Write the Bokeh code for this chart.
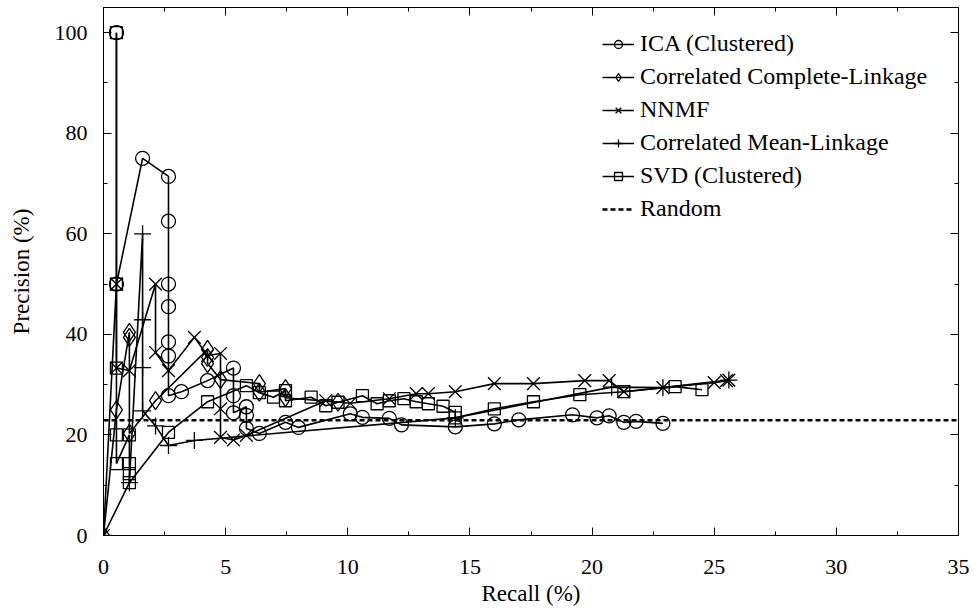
from bokeh.plotting import figure
from bokeh.models import (Range1d, LinearAxis, SingleIntervalTicker, Legend, LegendItem,
                          CustomJSTickFormatter)
from bokeh.embed import file_html
from bokeh.resources import INLINE

FONT = "Liberation Serif"

# ---------------- data (recall %, precision %) ----------------
ica_x = [0.53, 0.53, 1.60, 2.66, 2.66, 2.66, 2.66, 2.66, 2.66, 2.66, 3.19, 4.26, 5.32, 5.32, 5.32,
         5.85, 5.85, 5.85, 6.38, 7.45, 7.98, 10.1, 10.6, 11.7, 12.2, 14.4, 16.0, 17.0, 19.2, 20.2,
         20.7, 21.3, 21.8, 22.9]
ica_y = [100, 50, 75, 71.4, 62.5, 50, 45.5, 38.5, 35.7, 27.8, 28.6, 30.8, 33.3, 27.8, 24.4,
         25.6, 23.9, 21.3, 20.3, 22.5, 21.5, 24.2, 23.5, 23.3, 22.0, 21.6, 22.2, 23.0, 24.0, 23.4,
         23.8, 22.5, 22.7, 22.3]

ccl_x = [0, 0.53, 1.06, 1.06, 1.06, 2.13, 4.26, 4.26, 4.26, 4.79, 6.38, 6.38, 7.45, 7.45, 9.6]
ccl_y = [0, 25, 40.4, 39.4, 20.3, 26.8, 37.0, 35.4, 34.2, 31.0, 30.2, 28.5, 29.2, 27.4, 26.5]

nnmf_x = [0, 0.53, 0.53, 1.06, 2.13, 2.13, 2.66, 3.72, 4.26, 4.79, 4.79, 4.79, 5.32, 5.85, 9.1,
          10.1, 11.7, 12.8, 13.3, 14.4, 16.0, 17.6, 19.7, 20.7, 21.3, 22.9, 25.0, 25.5, 25.6]
nnmf_y = [0, 50, 33.3, 32.8, 50, 36.4, 32.8, 39.4, 35.8, 36.2, 25.2, 19.5, 19.0, 19.9, 26.8,
          26.3, 27.2, 28.2, 28.2, 28.6, 30.2, 30.2, 30.8, 30.8, 28.6, 29.4, 30.4, 30.8, 30.9]

cml_x = [0, 1.06, 1.60, 1.60, 1.60, 1.60, 2.13, 2.66, 3.72, 14.4, 20.8, 22.9, 25.6]
cml_y = [0, 10.5, 60.0, 42.9, 33.4, 24.8, 21.8, 17.9, 18.9, 23.4, 29.5, 29.4, 30.9]

svd_x = [0.53, 0.53, 0.53, 0.53, 0.53, 1.06, 1.06, 1.06, 1.06, 2.66, 4.26, 5.85, 6.38, 6.96,
         7.45, 7.45, 8.5, 9.1, 9.6, 10.6, 11.2, 11.7, 12.3, 12.8, 13.3, 13.9, 14.4, 14.4, 16.0,
         17.6, 19.5, 21.3, 23.4, 24.5]
svd_y = [100, 50, 33.3, 20, 14.3, 20, 14.3, 12.3, 10.5, 20.5, 26.6, 29.8, 28.4, 27.5,
         28.8, 26.8, 27.5, 25.8, 26.5, 27.8, 26.2, 26.8, 27.2, 26.6, 26.2, 25.7, 24.5, 23.4, 25.2,
         26.6, 28.0, 28.6, 29.6, 29.0]

random_precision = 22.9
x_limits = [0, 35]
y_limits = [0, 105]

labels = ["ICA (Clustered)", "Correlated Complete-Linkage", "NNMF",
          "Correlated Mean-Linkage", "SVD (Clustered)", "Random"]

# ---------------- figure ----------------
p = figure(width=974, height=614, output_backend="svg", toolbar_location=None,
           x_range=Range1d(*x_limits), y_range=Range1d(*y_limits))
p.min_border_left = 103
p.min_border_right = 16
p.min_border_top = 7
p.min_border_bottom = 79
p.grid.visible = False
p.outline_line_color = "black"
p.outline_line_width = 1
p.background_fill_color = "white"
p.border_fill_color = "white"


def style_axis(ax):
    ax.major_tick_in = 8
    ax.major_tick_out = 0
    ax.minor_tick_in = 4
    ax.minor_tick_out = 0
    ax.axis_line_color = "black"
    ax.major_tick_line_color = "black"
    ax.minor_tick_line_color = "black"
    ax.major_label_text_font = FONT
    ax.major_label_text_font_size = "22px"
    ax.major_label_text_color = "black"
    ax.axis_label_text_font = FONT
    ax.axis_label_text_font_style = "normal"
    ax.axis_label_text_font_size = "23px"
    ax.axis_label_text_color = "black"


p.xaxis.ticker = SingleIntervalTicker(interval=5, num_minor_ticks=2)
p.yaxis.ticker = SingleIntervalTicker(interval=20, num_minor_ticks=2)
style_axis(p.xaxis[0])
style_axis(p.yaxis[0])
p.xaxis.axis_label = "Recall (%)"
p.yaxis.axis_label = "Precision (%)"
p.xaxis.major_label_standoff = 24
p.yaxis.major_label_standoff = 16
p.xaxis.axis_label_standoff = 4
p.yaxis.axis_label_standoff = 18

blank = CustomJSTickFormatter(code="return ''")
top_ax = LinearAxis(ticker=SingleIntervalTicker(interval=5, num_minor_ticks=2), formatter=blank)
right_ax = LinearAxis(ticker=SingleIntervalTicker(interval=20, num_minor_ticks=2), formatter=blank)
style_axis(top_ax)
style_axis(right_ax)
for ax in (top_ax, right_ax):
    ax.major_label_standoff = 0
    ax.major_label_text_font_size = "2px"
p.add_layout(top_ax, "above")
p.add_layout(right_ax, "right")

LW = 1.6
MLW = 1.3

series = [
    (ica_x, ica_y, "circle", 14),
    (ccl_x, ccl_y, "diamond", 18),
    (nnmf_x, nnmf_y, "x", 18),
    (cml_x, cml_y, "cross", 17),
    (svd_x, svd_y, "square", 12),
]

items = []
for (xs, ys, mk, sz), lab in zip(series, labels[:5]):
    lr = p.line(xs, ys, line_color="black", line_width=LW)
    sr = p.scatter(xs, ys, marker=mk, size=sz, line_color="black", line_width=MLW,
                   fill_color=None)
    items.append(LegendItem(label=lab, renderers=[lr, sr]))

rr = p.line(x_limits, [random_precision, random_precision], line_color="black",
            line_width=2.5, line_dash="5 3")
items.append(LegendItem(label=labels[5], renderers=[rr]))

legend = Legend(items=items, location=(499, 313), border_line_color=None,
                background_fill_alpha=0, label_text_font=FONT, label_text_color="black",
                label_text_font_size="24px", glyph_width=32, glyph_height=20,
                label_standoff=6, spacing=6, padding=0, margin=0)
p.add_layout(legend, "center")

open("out.html", "w").write(file_html(p, INLINE))
